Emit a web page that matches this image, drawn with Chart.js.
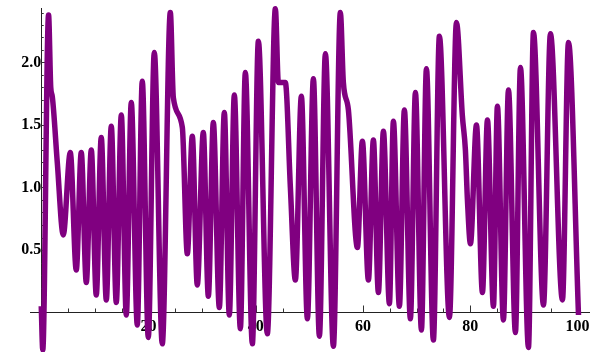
<!DOCTYPE html>
<html>
<head>
<meta charset="utf-8">
<script src="https://cdn.jsdelivr.net/npm/chart.js@4/dist/chart.umd.min.js"></script>
<style>
html,body{margin:0;padding:0;background:#fff;}
#wrap{width:596px;height:352px;}
</style>
</head>
<body>
<div id="wrap"><canvas id="chart" width="596" height="352"></canvas></div>
<script>
// turning points (t, x(t))
const times = [0, 0.28, 1.36, 1.77, 2.05, 2.99, 4.10,
  5.41, 6.53, 7.46, 8.40, 9.33, 10.26, 11.19, 12.13, 13.06, 13.99, 14.93, 15.86, 16.79, 17.91, 18.84, 19.96, 21.08, 22.57, 24.07,
  24.63, 26.31, 27.24,
  28.17, 29.10, 30.22, 31.16, 32.09, 33.21, 34.14, 35.07, 36.01, 37.13, 38.06, 39.37, 40.49, 42.16, 43.66,
  44.22, 45.52, 46.46, 47.39,
  48.51, 49.63, 50.75, 51.87, 52.99, 54.48, 55.78,
  56.34, 57.28, 58.96,
  59.89, 61.01, 61.94, 62.87, 63.81, 64.93, 65.67, 66.79, 67.72, 68.84, 69.78, 70.90, 71.83, 73.13, 74.25, 76.12, 77.43,
  78.54, 79.10, 79.48, 80.04,
  81.16, 82.28, 83.21, 84.33, 85.07, 86.19, 87.13, 88.43, 89.37, 90.86, 91.79, 93.66, 94.96, 97.20, 98.32, 100.19];
const values = [0.05, -0.3, 2.38, 1.8, 1.73, 1.2, 0.62,
  1.28, 0.34, 1.28, 0.24, 1.3, 0.14, 1.4, 0.1, 1.49, 0.08, 1.58, -0.02, 1.68, -0.1, 1.85, -0.2, 2.08, -0.25, 2.4,
  1.72, 1.48, 0.47,
  1.41, 0.22, 1.44, 0.13, 1.52, 0.04, 1.6, -0.02, 1.74, -0.13, 1.92, -0.25, 2.17, -0.17, 2.43,
  1.84, 1.84, 1.0, 0.26,
  1.73, -0.05, 1.87, -0.19, 2.07, -0.27, 2.4,
  1.84, 1.62, 0.52,
  1.37, 0.26, 1.38, 0.16, 1.45, 0.07, 1.53, 0.05, 1.62, -0.05, 1.76, -0.14, 1.95, -0.22, 2.21, -0.04, 2.32,
  1.57, 1.3, 0.9, 0.55,
  1.5, 0.16, 1.54, 0.05, 1.65, -0.06, 1.78, -0.16, 1.96, -0.28, 2.24, 0.06, 2.23, 0.1, 2.16, -0.02];
const xTicks = [20, 40, 60, 80, 100];
const yTicks = [0.5, 1.0, 1.5, 2.0];

const font = {family:'Liberation Serif', size:16, weight:'bold'};

// Mathematica style small inward ticks on both axes
const axisTicks = {
  id:'axisTicks',
  beforeDatasetsDraw(c){
    const {ctx, scales:{x, y}} = c;
    const x0 = x.getPixelForValue(0), y0 = y.getPixelForValue(0);
    ctx.save();
    ctx.strokeStyle = '#333'; ctx.lineWidth = 1;
    ctx.beginPath();
    for(let t=5;t<=100;t+=5){
      const px = Math.round(x.getPixelForValue(t)) + .5, len = t%20===0 ? 7 : 4;
      ctx.moveTo(px, y0); ctx.lineTo(px, y0-len);
    }
    for(let k=-3;k<=24;k++){
      if(k===0) continue;
      const py = Math.round(y.getPixelForValue(k/10)) + .5, len = k%5===0 ? 5 : 2.5;
      ctx.moveTo(x0, py); ctx.lineTo(x0+len, py);
    }
    ctx.stroke();
    ctx.restore();
  }
};

// centred axes should not eat any room of the plot
const noRoom = s => {
  if(s.isHorizontal()) s.height = 0; else s.width = 0;
  s.paddingTop = s.paddingBottom = s.paddingLeft = s.paddingRight = 0;
};

new Chart(document.getElementById('chart'), {
  type:'line',
  data:{datasets:[{
    data: times.map((t,i)=>({x:t, y:values[i]})),
    borderColor:'#800080', borderWidth:5.5, pointRadius:0,
    cubicInterpolationMode:'monotone', clip:8, fill:false
  }]},
  options:{
    responsive:false, animation:false,
    layout:{padding:{left:30, right:7, top:8, bottom:0}},
    plugins:{legend:{display:false}, tooltip:{enabled:false}},
    scales:{
      x:{
        type:'linear', min:-2.1, max:102.15, position:{y:0},
        grid:{display:false, drawTicks:false},
        border:{display:true, color:'#222', width:1},
        afterBuildTicks: s => { s.ticks = xTicks.map(v=>({value:v})); },
        afterFit: noRoom,
        ticks:{padding:5, color:'#000', font, maxRotation:0, autoSkip:false, callback:v=>String(v)}
      },
      y:{
        type:'linear', min:-0.316, max:2.436, position:{x:0},
        grid:{display:false, drawTicks:false},
        border:{display:true, color:'#222', width:1},
        afterBuildTicks: s => { s.ticks = yTicks.map(v=>({value:v})); },
        afterFit: noRoom,
        ticks:{padding:6, color:'#000', font, autoSkip:false, callback:v=>v.toFixed(1)}
      }
    }
  },
  plugins:[axisTicks]
});
</script>
</body>
</html>
